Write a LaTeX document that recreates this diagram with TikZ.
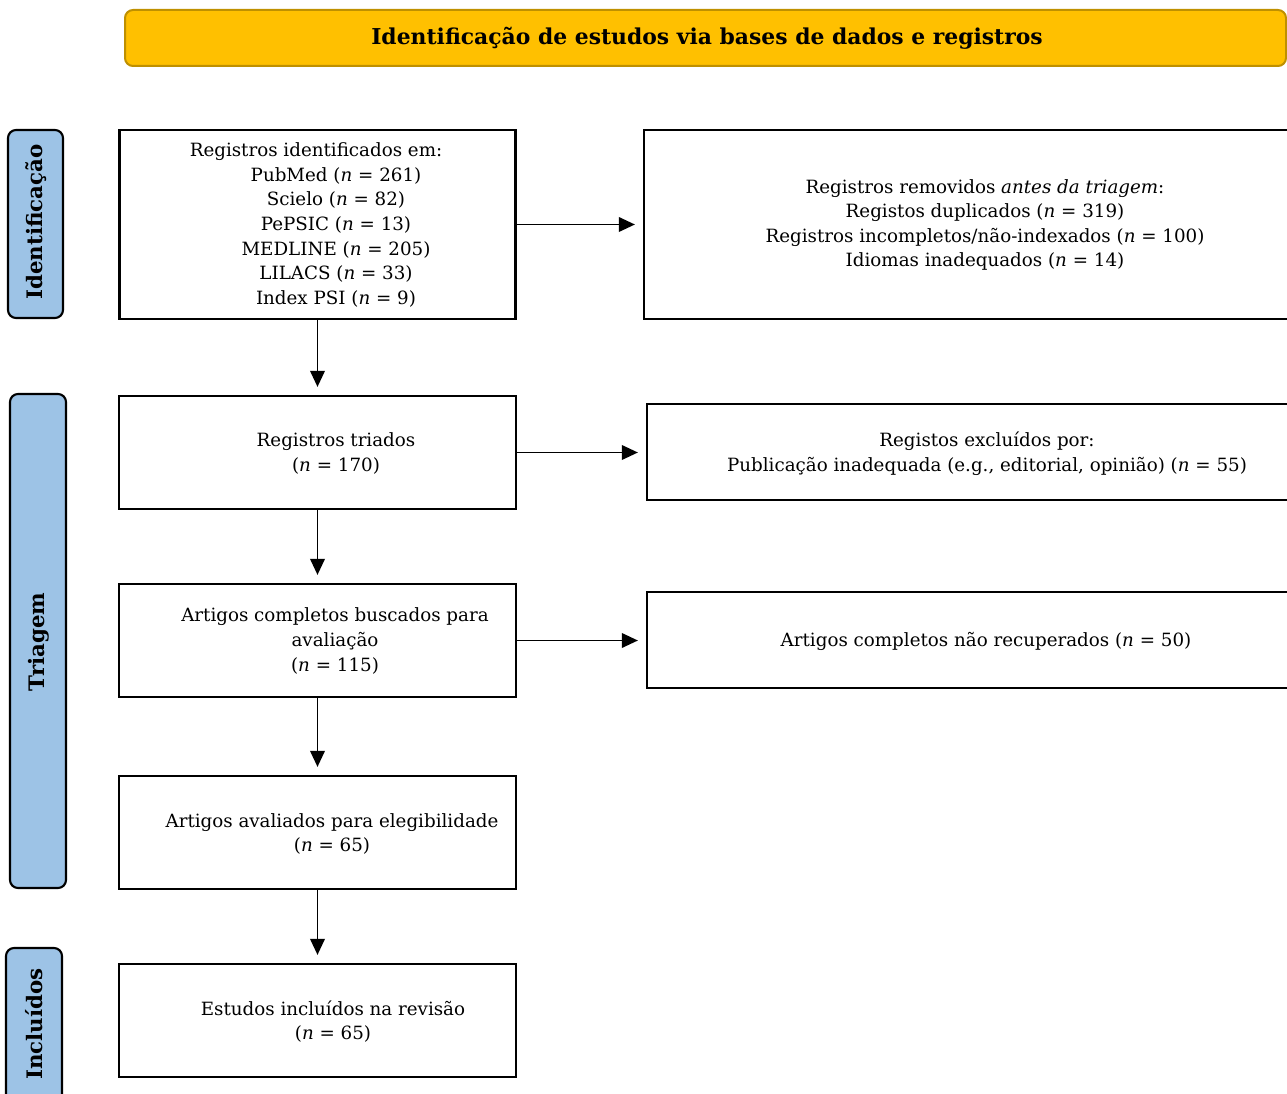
\documentclass[tikz,border=0pt]{standalone}
\usepackage{fontspec}
\setmainfont{DejaVu Serif}
\usetikzlibrary{arrows.meta}
\definecolor{gold}{HTML}{FFC000}
\definecolor{goldline}{HTML}{BF9000}
\definecolor{sideblue}{HTML}{9DC3E6}
\begin{document}
\begin{tikzpicture}[x=0.75pt,y=-0.75pt,
  box/.style={draw=black,line width=1.7pt,fill=white,inner sep=0pt},
  side/.style={draw=black,line width=1.6pt,fill=sideblue,rounded corners=6pt,inner sep=0pt},
  txt/.style={align=center,inner sep=0pt,font=\fontsize{13.7pt}{18.4pt}\selectfont},
  sidetxt/.style={rotate=90,inner sep=0pt,font=\fontsize{16pt}{19pt}\selectfont\bfseries},
  arr/.style={line width=1.1pt,-{Triangle[length=12pt,width=11pt]},shorten >=6pt}]
\useasboundingbox (0,0) rectangle (1287,1094);
% banner
\node[draw=goldline,line width=1.5pt,fill=gold,rounded corners=6pt,minimum width=870.75pt,minimum height=42pt,inner sep=0pt] (banner) at (705.5,38) {};
\node[font=\fontsize{16.4pt}{19pt}\selectfont\bfseries,inner sep=0pt] (bannertxt) at (707,38) {Identificação de estudos via bases de dados e registros};
% side labels
\node[side,minimum width=41.25pt,minimum height=141pt] (s1) at (35.5,224) {};
\node[sidetxt] (s1t) at (36,222) {Identificação};
\node[side,minimum width=42pt,minimum height=370.5pt] (s2) at (38,641) {};
\node[sidetxt] (s2t) at (39,642) {Triagem};
\node[side,minimum width=42pt,minimum height=121.5pt] (s3) at (34,1029) {};
\node[sidetxt] (s3t) at (34,1024) {Incluídos};
% main boxes
\node[box,minimum width=297pt,minimum height=141.75pt] (b1) at (317.5,224.5) {};
\node[box,minimum width=297.75pt,minimum height=84.75pt] (b2) at (317.5,452.5) {};
\node[box,minimum width=297.75pt,minimum height=84.75pt] (b3) at (317.5,640.5) {};
\node[box,minimum width=297.75pt,minimum height=84.75pt] (b4) at (317.5,832.5) {};
\node[box,minimum width=297.75pt,minimum height=84.75pt] (b5) at (317.5,1020.5) {};
% right boxes
\node[box,minimum width=492pt,minimum height=141.75pt] (r1) at (972,224.5) {};
\node[box,minimum width=489.75pt,minimum height=72pt] (r2) at (973.5,452) {};
\node[box,minimum width=489.75pt,minimum height=72pt] (r3) at (973.5,640) {};
% texts
\node[txt] (b1t) at (316,225) {Registros identificados em:\\
\hspace*{30pt}PubMed (\textit{n} = 261)\\
\hspace*{30pt}Scielo (\textit{n} = 82)\\
\hspace*{30pt}PePSIC (\textit{n} = 13)\\
\hspace*{30pt}MEDLINE (\textit{n} = 205)\\
\hspace*{30pt}LILACS (\textit{n} = 33)\\
\hspace*{30pt}Index PSI (\textit{n} = 9)};
\node[txt] (r1t) at (985,225) {Registros removidos \textit{antes da triagem}:\\
Registos duplicados (\textit{n} = 319)\\
Registros incompletos/não-indexados (\textit{n} = 100)\\
Idiomas inadequados (\textit{n} = 14)};
\node[txt] (b2t) at (336,453.5) {Registros triados\\(\textit{n} = 170)};
\node[txt] (r2t) at (987,453.5) {Registos excluídos por:\\Publicação inadequada (e.g., editorial, opinião) (\textit{n} = 55)};
\node[txt] (b3t) at (335,641) {Artigos completos buscados para\\avaliação\\(\textit{n} = 115)};
\node[txt] (r3t) at (986,641) {Artigos completos não recuperados (\textit{n} = 50)};
\node[txt] (b4t) at (332,834) {Artigos avaliados para elegibilidade\\(\textit{n} = 65)};
\node[txt] (b5t) at (333,1021.5) {Estudos incluídos na revisão\\(\textit{n} = 65)};
% arrows
\draw[arr] (b1) -- (b2);
\draw[arr] (b2) -- (b3);
\draw[arr] (b3) -- (b4);
\draw[arr] (b4) -- (b5);
\draw[arr] (b1.east) -- (r1.west);
\draw[arr] (b2.east) -- (b2.east -| r2.west);
\draw[arr] (b3.east) -- (b3.east -| r3.west);
\end{tikzpicture}
\end{document}
